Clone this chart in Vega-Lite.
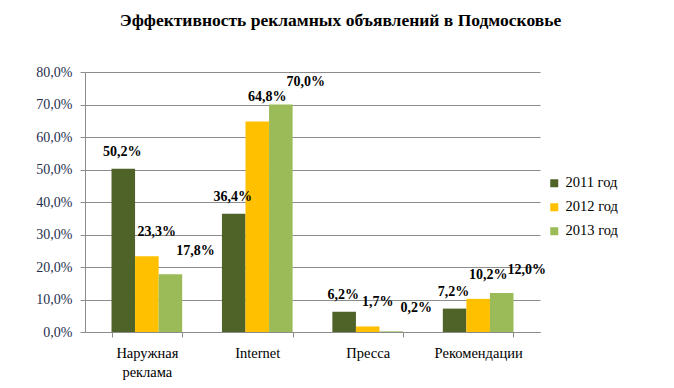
{
  "$schema": "https://vega.github.io/schema/vega-lite/v6.json",
  "width": 455,
  "height": 260,
  "autosize": {"type": "none"},
  "padding": {"left": 85, "top": 72, "right": 134, "bottom": 56},
  "background": "white",
  "config": {
    "locale": {"number": {"decimal": ",", "thousands": " ", "grouping": [3], "currency": ["", " руб."]}},
    "view": {"stroke": null},
    "font": "Liberation Serif"
  },
  "title": {
    "text": "Эффективность рекламных объявлений в Подмосковье",
    "font": "Liberation Serif",
    "fontSize": 17.5,
    "fontWeight": "bold",
    "color": "#000000",
    "anchor": "middle",
    "dx": 28,
    "offset": 36
  },
  "data": {
    "values": [
      {"category": "Наружная реклама", "year": "2011 год", "value": 0.502},
      {"category": "Наружная реклама", "year": "2012 год", "value": 0.233},
      {"category": "Наружная реклама", "year": "2013 год", "value": 0.178},
      {"category": "Internet", "year": "2011 год", "value": 0.364},
      {"category": "Internet", "year": "2012 год", "value": 0.648},
      {"category": "Internet", "year": "2013 год", "value": 0.700},
      {"category": "Пресса", "year": "2011 год", "value": 0.062},
      {"category": "Пресса", "year": "2012 год", "value": 0.017},
      {"category": "Пресса", "year": "2013 год", "value": 0.002},
      {"category": "Рекомендации", "year": "2011 год", "value": 0.072},
      {"category": "Рекомендации", "year": "2012 год", "value": 0.102},
      {"category": "Рекомендации", "year": "2013 год", "value": 0.120}
    ]
  },
  "encoding": {
    "x": {
      "field": "category",
      "type": "nominal",
      "sort": null,
      "title": null,
      "scale": {"paddingInner": 0.36, "paddingOuter": 0.24},
      "axis": {
        "labelAngle": 0,
        "labelFont": "Liberation Serif",
        "labelFontSize": 14.5,
        "labelColor": "#000000",
        "labelPadding": 9,
        "labelExpr": "datum.value ? split(datum.value, ' ') : ''",
        "labelLineHeight": 19,
        "tickBand": "extent",
        "tickColor": "#8c8c8c",
        "domainColor": "#8c8c8c",
        "tickSize": 5
      }
    },
    "xOffset": {"field": "year", "type": "nominal", "sort": null},
    "y": {
      "field": "value",
      "type": "quantitative",
      "title": null,
      "scale": {"domain": [0, 0.8], "nice": false},
      "axis": {
        "values": [0, 0.1, 0.2, 0.3, 0.4, 0.5, 0.6, 0.7, 0.8],
        "format": ".1%",
        "labelFont": "Liberation Serif",
        "labelFontSize": 14,
        "labelColor": "#1f2f4f",
        "labelPadding": 8,
        "tickSize": 5,
        "tickColor": "#8c8c8c",
        "domainColor": "#8c8c8c",
        "gridColor": "#8c8c8c",
        "gridWidth": 1
      }
    }
  },
  "layer": [
    {
      "mark": {"type": "bar"},
      "encoding": {
        "color": {
          "field": "year",
          "type": "nominal",
          "sort": null,
          "scale": {"range": ["#4f6228", "#ffc000", "#9bbb59"]},
          "legend": {
            "title": null,
            "orient": "none",
            "legendX": 462,
            "legendY": 104,
            "symbolType": "square",
            "symbolSize": 64,
            "symbolStrokeWidth": 0,
            "labelFont": "Liberation Serif",
            "labelFontSize": 14.5,
            "labelColor": "#000000",
            "rowPadding": 9,
            "labelOffset": 4
          }
        }
      }
    },
    {
      "transform": [{"filter": "datum.year == '2011 год'"}],
      "mark": {"type": "text", "dy": -17, "dx": -1, "font": "Liberation Serif", "fontSize": 14, "fontWeight": "bold", "color": "#000000"},
      "encoding": {
        "text": {"field": "value", "type": "quantitative", "format": ".1%"}
      }
    },
    {
      "transform": [{"filter": "datum.year == '2012 год'"}],
      "mark": {"type": "text", "dy": -24, "dx": 10, "font": "Liberation Serif", "fontSize": 14, "fontWeight": "bold", "color": "#000000"},
      "encoding": {
        "text": {"field": "value", "type": "quantitative", "format": ".1%"}
      }
    },
    {
      "transform": [{"filter": "datum.year == '2013 год'"}],
      "mark": {"type": "text", "dy": -23, "dx": 25, "font": "Liberation Serif", "fontSize": 14, "fontWeight": "bold", "color": "#000000"},
      "encoding": {
        "text": {"field": "value", "type": "quantitative", "format": ".1%"}
      }
    }
  ]
}
